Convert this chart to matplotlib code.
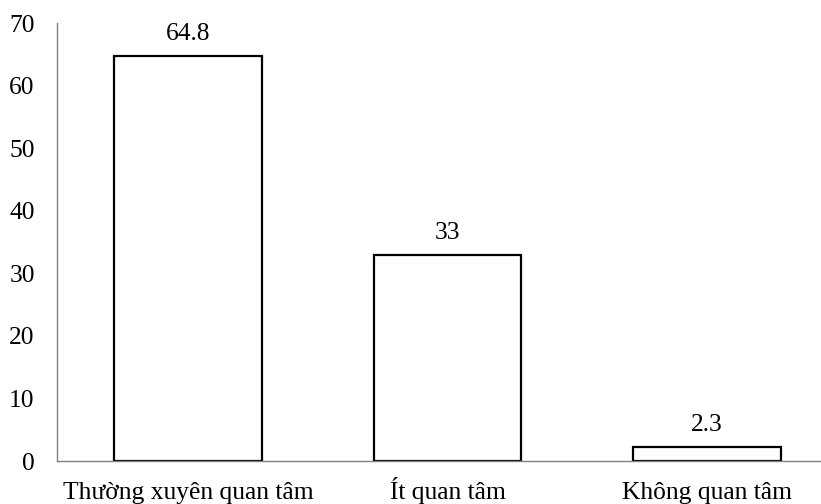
import matplotlib
matplotlib.use("Agg")
import matplotlib.pyplot as plt

categories = ["Thường xuyên quan tâm", "Ít quan tâm", "Không quan tâm"]
values = [64.8, 33, 2.3]
value_labels = ["64.8", "33", "2.3"]
y_ticks = [0, 10, 20, 30, 40, 50, 60, 70]

plt.rcParams["font.family"] = ["Liberation Serif", "DejaVu Serif"]
FS = 18.4

fig = plt.figure(figsize=(8.21, 5.04), dpi=100)
ax = fig.add_axes([57 / 821, 1 - 461 / 504, (821 - 57) / 821, (461 - 23) / 504])

x = list(range(len(categories)))
bars = ax.bar(x, values, width=0.57, facecolor="white", edgecolor="black", linewidth=1.6)

for bar, lab in zip(bars, value_labels):
    ax.annotate(lab, (bar.get_x() + bar.get_width() / 2, bar.get_height()),
                xytext=(0, 11), textcoords="offset points",
                ha="center", va="baseline", fontsize=FS)

ax.set_xlim(-0.506, 2.44)
ax.set_ylim(0, 70)
ax.set_yticks(y_ticks)
ax.set_yticklabels([str(t) for t in y_ticks], fontsize=FS)
ax.set_xticks(x)
ax.set_xticklabels(categories, fontsize=FS, va="baseline")
ax.tick_params(axis="both", length=0)
ax.tick_params(axis="y", pad=16)
ax.tick_params(axis="x", pad=27)

for side in ("top", "right"):
    ax.spines[side].set_visible(False)
for side in ("left", "bottom"):
    ax.spines[side].set_color("#808080")
    ax.spines[side].set_linewidth(1.0)

fig.savefig("out.png", dpi=100)
